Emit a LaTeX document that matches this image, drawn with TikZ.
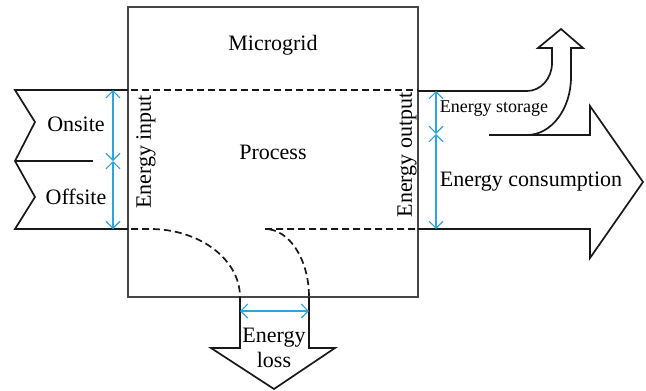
\documentclass[tikz,border=0pt]{standalone}
\usepackage{fontspec}
\setmainfont{Liberation Serif}
\definecolor{gridblue}{RGB}{45,165,220}
\definecolor{gridgray}{RGB}{70,70,70}
\usetikzlibrary{arrows.meta}

\tikzset{
  flow/.style={line width=1.7pt, black!90, line join=miter},
  cut/.style={flow, dash pattern=on 7pt off 4pt},
  span/.style={gridblue, line width=1.1pt,
    {Straight Barb[length=7pt,width=14pt]}-{Straight Barb[length=7pt,width=14pt]}},
  lbl/.style={font=\fontsize{22}{25}\selectfont, inner sep=0pt},
  sublbl/.style={font=\fontsize{18}{21}\selectfont, inner sep=0pt},
}

\begin{document}
\begin{tikzpicture}[x=1pt,y=-1pt]
  \useasboundingbox (0,0) rectangle (646,391);

  % Microgrid box
  \draw[gridgray, line width=1.3pt] (128,7) rectangle (418,297);
  \node[lbl] (mg) at (273,45) {Microgrid};
  \node[lbl] (proc) at (273,152) {Process};

  % Process boundary (dashed)
  \draw[cut] (131,90) -- (418,90);
  \draw[cut] (131,229) -- (150,229) arc[start angle=270, end angle=360, x radius=90, y radius=68];
  \draw[cut] (415,229) -- (265,229) arc[start angle=270, end angle=360, x radius=44, y radius=68];

  % Input tail (onsite / offsite)
  \draw[flow] (128,90) -- (15,90) -- (35,122) -- (15,161) -- (35,197) -- (15,229) -- (128,229);
  \draw[flow] (15,161) -- (93,161);
  \node[lbl] (onsite) at (76,124) {Onsite};
  \node[lbl] (offsite) at (76,197) {Offsite};

  % Energy loss arrow
  \draw[flow] (240,297) -- (240,348) -- (211,348) -- (274,389) -- (335,348) -- (309,348) -- (309,297);
  \node[lbl, align=center] (loss) at (274,348) {Energy\\loss};

  % Storage arrow (curved up)
  \draw[flow] (418,91) -- (527,91) arc[start angle=90, end angle=0, x radius=25, y radius=28]
    -- (552,48) -- (538,48) -- (561,29) -- (583,48) -- (571,48) -- (571,77)
    arc[start angle=0, end angle=90, x radius=44, y radius=58];

  % Consumption arrow
  \draw[flow] (489,135) -- (590,135) -- (590,106) -- (643,182) -- (590,258) -- (590,229) -- (418,229);

  % Labels on the output side
  \node[lbl, rotate=90] (ein) at (146,152) {Energy input};
  \node[lbl, rotate=90] (eout) at (407,155) {Energy output};
  \node[sublbl] (stor) at (494,109) {Energy storage};
  \node[lbl] (cons) at (531,182) {Energy consumption};

  % Blue spans
  \coordinate (inTop) at (113,90);
  \coordinate (inMid) at (113,161);
  \coordinate (inBot) at (113,229);
  \coordinate (outTop) at (436,91);
  \coordinate (outMid) at (436,134);
  \coordinate (outBot) at (436,229);
  \coordinate (lossL) at (240,311);
  \coordinate (lossR) at (309,311);
  \draw[span] (inTop) -- (inMid);
  \draw[span] (inMid) -- (inBot);
  \draw[span] (outTop) -- (outMid);
  \draw[span] (outMid) -- (outBot);
  \draw[span] (lossL) -- (lossR);
\end{tikzpicture}
\end{document}
